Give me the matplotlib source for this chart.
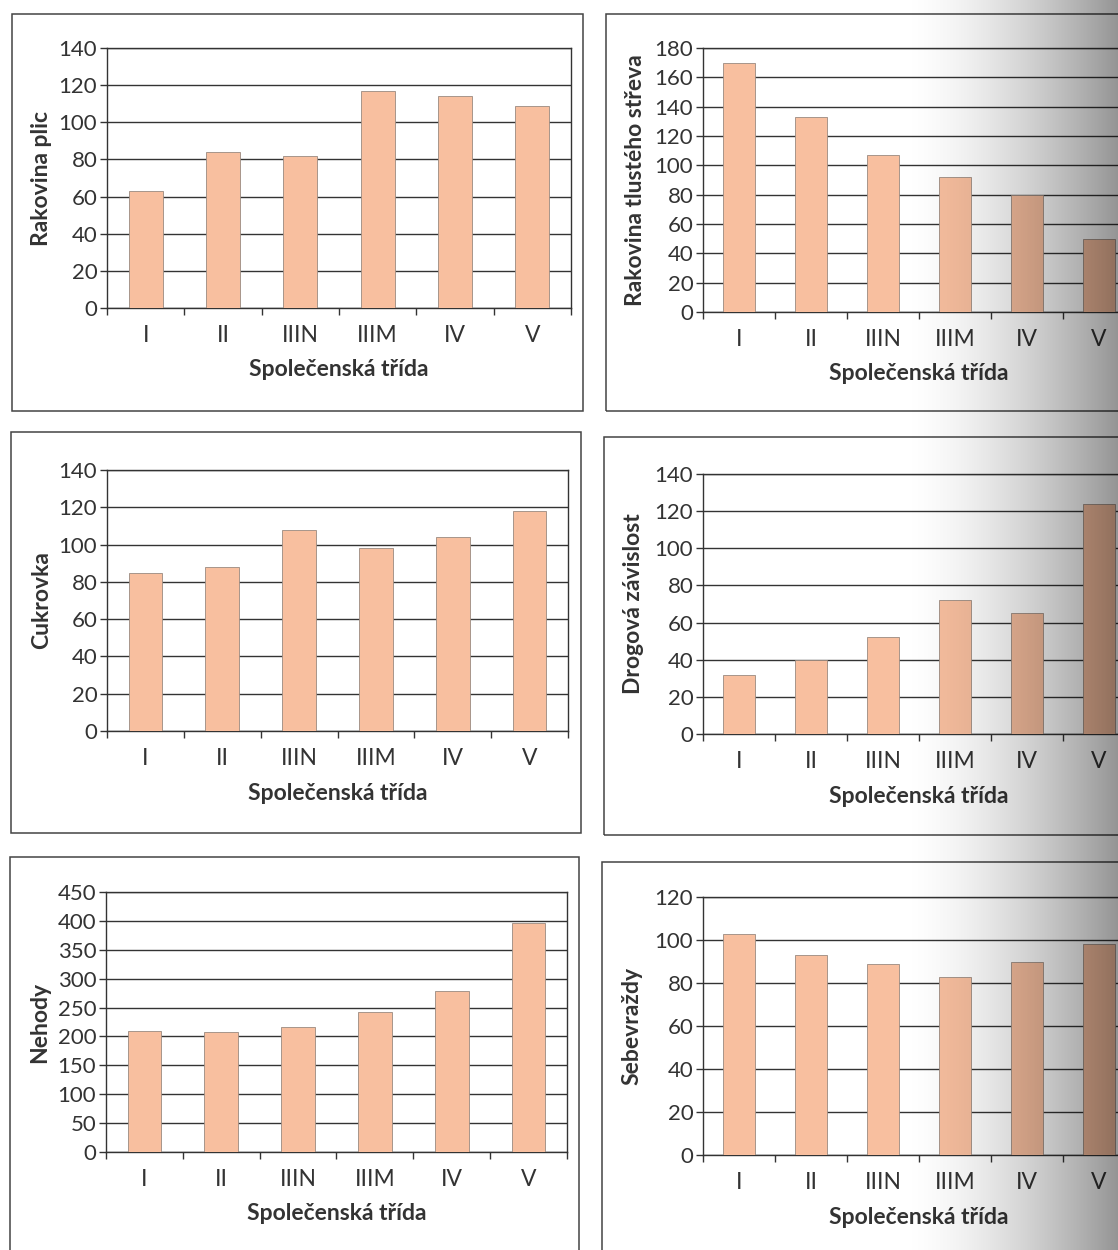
import numpy as np
import matplotlib.pyplot as plt
from matplotlib.patches import Rectangle

# společenské třídy
tridy = ['I', 'II', 'IIIN', 'IIIM', 'IV', 'V']

rakovina_plic = [63, 84, 82, 117, 114, 109]
rakovina_streva = [170, 133, 107, 92, 80, 50]
cukrovka = [85, 88, 108, 98, 104, 118]
drogy = [32, 40, 52, 72, 65, 124]
nehody = [209, 208, 216, 243, 278, 396]
sebevrazdy = [103, 93, 89, 83, 90, 98]

W, H = 1118, 1250
BAR = '#f8bf9f'
INK = '#333333'
plt.rcParams['font.family'] = ['Lato', 'DejaVu Sans']

fig = plt.figure(figsize=(W / 100, H / 100), dpi=100)


def px_box(x0, y0, x1, y1):
    fig.add_artist(Rectangle((x0 / W, 1 - y1 / H), (x1 - x0) / W, (y1 - y0) / H,
                             transform=fig.transFigure, fill=False,
                             edgecolor='#444444', linewidth=1.1))


def panel(left, top, right, bottom, values, ylabel, ymax, ystep, ylab_x):
    ax = fig.add_axes([left / W, 1 - bottom / H, (right - left) / W, (bottom - top) / H])
    w, h = right - left, bottom - top
    x = np.arange(len(tridy))
    ax.bar(x, values, width=0.44, color=BAR, edgecolor='#9a8a80', linewidth=0.6, zorder=3)
    ax.set_xlim(-0.5, 5.5)
    ax.set_ylim(0, ymax)
    ax.set_yticks(np.arange(0, ymax + 1, ystep))
    ax.yaxis.grid(True, color=INK, linewidth=1.0, zorder=1)
    ax.set_axisbelow(True)
    # tick marks on category boundaries, labels in between
    ax.set_xticks(np.arange(7) - 0.5)
    ax.set_xticklabels([])
    ax.set_xticks(x, minor=True)
    ax.set_xticklabels(tridy, minor=True)
    ax.tick_params(axis='x', which='major', length=5, width=1, color=INK)
    ax.tick_params(axis='x', which='minor', length=0, pad=12, labelsize=16.5, labelcolor=INK)
    ax.tick_params(axis='y', length=5, width=1, color=INK, pad=2, labelsize=16, labelcolor=INK)
    for s in ax.spines.values():
        s.set_color(INK)
        s.set_linewidth(1.0)
    ax.set_xlabel('Společenská třída', fontsize=16.5, fontweight='bold', color=INK, va='center')
    ax.xaxis.set_label_coords(0.5, -62 / h)
    ax.set_ylabel(ylabel, fontsize=16.5, fontweight='bold', color=INK, va='center')
    ax.yaxis.set_label_coords(-(left - ylab_x) / w, 0.5)
    return ax


# rámečky
px_box(12, 14, 583, 411)
px_box(606, 14, 1140, 411)
px_box(11, 432, 581, 833)
px_box(604, 437, 1140, 835)
px_box(10, 857, 579, 1270)
px_box(602, 862, 1140, 1270)

panel(107, 48, 571, 308, rakovina_plic, 'Rakovina plic', 140, 20, 42)
panel(703, 48, 1135, 312, rakovina_streva, 'Rakovina tlustého střeva', 180, 20, 636)
panel(107, 470, 568, 731, cukrovka, 'Cukrovka', 140, 20, 42)
panel(703, 474, 1135, 734, drogy, 'Drogová závislost', 140, 20, 634)
panel(106, 892, 567, 1152, nehody, 'Nehody', 450, 50, 40)
panel(703, 897, 1135, 1155, sebevrazdy, 'Sebevraždy', 120, 20, 632)

# stín ohybu stránky vpravo
shade = fig.add_axes([900 / W, 0, (W - 900) / W, 1])
shade.set_zorder(10)
t = np.linspace(0, 1, 256)
grad = np.zeros((2, 256, 4))
grad[..., 3] = 0.42 * t ** 1.6
shade.imshow(grad, aspect='auto', extent=(0, 1, 0, 1))
shade.axis('off')

fig.savefig('out.png', dpi=100)
